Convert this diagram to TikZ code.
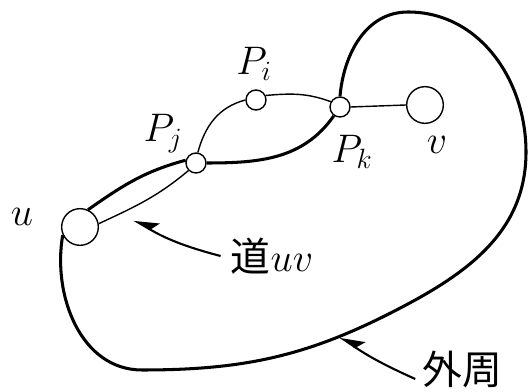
\RequirePackage{fix-cm}
\documentclass[tikz,border=0pt]{standalone}
\usepackage{fontspec}
\newfontfamily\cjkfont{Noto Sans CJK JP}
\usetikzlibrary{positioning, arrows.meta}

\begin{document}
\begin{tikzpicture}[x=0.3mm, y=0.3mm,
    vertex/.style={circle, draw, line width=1.2pt, fill=white, inner sep=0pt, minimum size=6mm},
    big/.style={minimum size=11mm},
    cycle edge/.style={line width=2.6pt},
    path edge/.style={line width=1.2pt},
    label text/.style={font=\fontsize{34}{38}\selectfont},
    cjk text/.style={font=\cjkfont\fontsize{34}{38}\selectfont},
    pointer/.style={line width=1.8pt, -{Stealth[right, length=6.5mm, width=6mm, inset=1.5mm]}}]
  \useasboundingbox (0,0) rectangle (531,392);

  % Vertices
  \node[vertex, big] (u) at (80,165) {};
  \node[vertex] (pj) at (196,229) {};
  \node[vertex] (pi) at (256,292) {};
  \node[vertex] (pk) at (340,285) {};
  \node[vertex, big] (v) at (425,287) {};

  % Vertex labels
  \node[label text] (ulbl) at (22,175) {$u$};
  \node[label text] (pjlbl) at (163,258) {$P_j$};
  \node[label text] (pilbl) at (254,328) {$P_i$};
  \node[label text] (pklbl) at (352,240) {$P_k$};
  \node[label text] (vlbl) at (437,247) {$v$};

  % Outer cycle
  \draw[cycle edge] (u.205) to[out=-100, in=180] (142,22) to[out=0, in=-152] (406,87)
    to[out=28, in=-90] (526,240) to[out=90, in=0] (408,380) to[out=180, in=85] (pk.north);
  \draw[cycle edge] (pk.235) to[out=-125, in=0] (pj.east);
  \draw[cycle edge] (pj.165) to[out=195, in=35] (u.65);

  % Path u -- v
  \draw[path edge] (u.10) to[out=25, in=220] (pj.225);
  \draw[path edge] (pj.80) to[out=75, in=195] (pi.west);
  \draw[path edge] (pi.25) to[out=5, in=160] (pk.150);
  \draw[path edge] (pk.east) -- (v.west);

  % Pointers
  \node[cjk text, inner sep=1mm] (pathlbl) at (272,136) {道$uv$};
  \node[cjk text, inner sep=1mm] (outerlbl) at (462,23) {外周};
  \coordinate (pathtip) at (134,172);
  \coordinate (outertip) at (340,55);
  \draw[pointer] ([xshift=-2mm]pathlbl.west) to[bend left=8] (pathtip);
  \draw[pointer] ([xshift=-1mm, yshift=-3mm]outerlbl.west) to[bend left=5] (outertip);
\end{tikzpicture}
\end{document}
